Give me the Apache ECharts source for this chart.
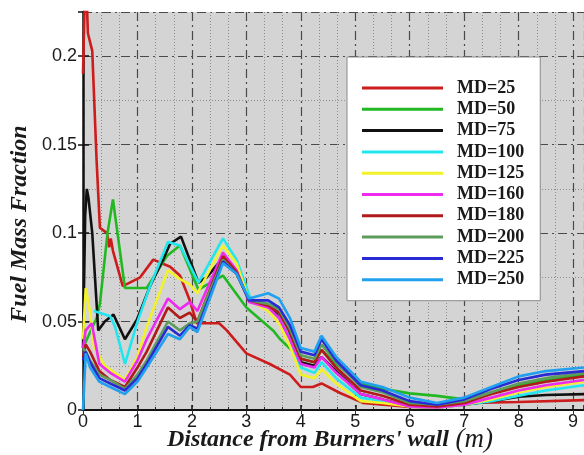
<!DOCTYPE html>
<html><head><meta charset="utf-8">
<script src="https://cdn.jsdelivr.net/npm/echarts@6/dist/echarts.min.js"></script>
<style>html,body{margin:0;padding:0;background:#fff}#c{width:584px;height:455px}</style>
</head><body><div id="c"></div>
<script>
const seriesNames = ['MD=25','MD=50','MD=75','MD=100','MD=125','MD=160','MD=180','MD=200','MD=225','MD=250'];
const seriesColors = ['#cc1c1c','#22b822','#111111','#22e6ee','#f2f22a','#ee2aee','#b01a1a','#5c9c5c','#2a2ad2','#20a0ee'];
const xTicks = [0,1,2,3,4,5,6,7,8,9];
const yTicks = [0,0.05,0.1,0.15,0.2];

const md25 = [[0,0.19],[0.03,0.23],[0.06,0.24],[0.09,0.213],[0.17,0.203],[0.25,0.141],[0.31,0.103],[0.44,0.100],[0.48,0.092],[0.51,0.097],[0.55,0.090],[0.73,0.070],[1.05,0.075],[1.29,0.085],[1.6,0.081],[1.78,0.076],[1.96,0.062],[2.09,0.049],[2.5,0.049],[2.64,0.045],[3.0,0.032],[3.43,0.026],[3.8,0.020],[4.0,0.013],[4.22,0.013],[4.38,0.015],[4.72,0.0096],[5.14,0.004],[6.0,0.0017],[6.5,0.0017],[7.1,0.004],[8.0,0.0045],[9.2,0.0056]];
const md50 = [[0,0.035],[0.1,0.042],[0.25,0.052],[0.31,0.06],[0.45,0.10],[0.55,0.119],[0.77,0.069],[1.17,0.069],[1.54,0.087],[1.78,0.093],[2.12,0.068],[2.57,0.076],[3.0,0.058],[3.49,0.045],[3.62,0.040],[4.0,0.029],[4.25,0.027],[4.38,0.034],[4.65,0.026],[5.1,0.015],[5.5,0.012],[6.0,0.0094],[6.5,0.008],[7.0,0.006],[7.5,0.010],[8.0,0.014],[8.5,0.017],[9.2,0.020]];
const md75 = [[0,0.035],[0.04,0.11],[0.07,0.125],[0.1,0.12],[0.17,0.10],[0.22,0.075],[0.28,0.045],[0.4,0.05],[0.56,0.054],[0.77,0.040],[0.99,0.051],[1.23,0.070],[1.47,0.085],[1.6,0.094],[1.8,0.098],[2.12,0.072],[2.27,0.075],[2.57,0.086],[2.82,0.078],[3.05,0.062],[3.4,0.059],[3.6,0.054],[3.8,0.042],[4.0,0.027],[4.25,0.025],[4.38,0.030],[4.65,0.022],[5.1,0.009],[5.5,0.006],[6.0,0.002],[6.5,0.0015],[7.0,0.003],[7.5,0.005],[8.0,0.0075],[8.5,0.0085],[9.2,0.009]];
const md100 = [[0.2,0.056],[0.5,0.053],[0.59,0.047],[0.77,0.026],[0.99,0.049],[1.23,0.070],[1.56,0.095],[1.78,0.093],[2.12,0.072],[2.57,0.097],[2.82,0.085],[3.1,0.061],[3.4,0.060],[3.6,0.055],[3.8,0.040],[4.0,0.024],[4.25,0.021],[4.38,0.027],[4.65,0.018],[5.1,0.007],[5.5,0.005],[6.0,0.002],[6.5,0.0015],[7.0,0.003],[7.5,0.005],[8.0,0.008],[8.5,0.011],[9.2,0.014]];
const md125 = [[0,0.04],[0.05,0.069],[0.13,0.055],[0.2,0.036],[0.4,0.025],[0.77,0.017],[1.0,0.030],[1.17,0.047],[1.56,0.079],[1.78,0.074],[1.96,0.071],[2.1,0.066],[2.57,0.093],[2.82,0.083],[3.05,0.062],[3.4,0.056],[3.6,0.049],[3.8,0.036],[4.0,0.020],[4.25,0.018],[4.38,0.023],[4.65,0.015],[5.1,0.005],[5.5,0.004],[6.0,0.002],[6.5,0.0015],[7.0,0.003],[7.5,0.006],[8.0,0.010],[8.5,0.013],[9.2,0.016]];
const md160 = [[0,0.035],[0.05,0.045],[0.16,0.049],[0.3,0.026],[0.5,0.021],[0.77,0.016],[1.0,0.028],[1.17,0.040],[1.56,0.063],[1.78,0.057],[1.96,0.061],[2.1,0.056],[2.57,0.089],[2.82,0.079],[3.05,0.061],[3.4,0.058],[3.6,0.052],[3.8,0.040],[4.0,0.026],[4.25,0.024],[4.38,0.030],[4.65,0.021],[5.1,0.009],[5.5,0.006],[6.0,0.002],[6.5,0.0015],[7.0,0.003],[7.5,0.007],[8.0,0.011],[8.5,0.014],[9.2,0.017]];
const md180 = [[0,0.03],[0.05,0.037],[0.13,0.033],[0.3,0.022],[0.5,0.017],[0.77,0.013],[1.0,0.024],[1.17,0.033],[1.56,0.058],[1.78,0.052],[1.96,0.055],[2.1,0.050],[2.57,0.087],[2.82,0.078],[3.05,0.062],[3.4,0.059],[3.6,0.055],[3.8,0.044],[4.0,0.029],[4.25,0.027],[4.38,0.034],[4.65,0.024],[5.1,0.011],[5.5,0.008],[6.0,0.003],[6.5,0.002],[7.0,0.004],[7.5,0.009],[8.0,0.013],[8.5,0.016],[9.2,0.019]];
const md200 = [[0,0.035],[0.05,0.033],[0.13,0.028],[0.3,0.02],[0.5,0.017],[0.77,0.012],[1.0,0.02],[1.17,0.028],[1.56,0.050],[1.78,0.045],[1.96,0.049],[2.1,0.050],[2.57,0.085],[2.82,0.077],[3.05,0.062],[3.4,0.060],[3.6,0.057],[3.8,0.046],[4.0,0.031],[4.25,0.029],[4.38,0.037],[4.65,0.027],[5.1,0.013],[5.5,0.010],[6.0,0.004],[6.5,0.003],[7.0,0.005],[7.5,0.010],[8.0,0.015],[8.5,0.018],[9.2,0.021]];
const md225 = [[0,0.028],[0.05,0.033],[0.13,0.027],[0.3,0.018],[0.5,0.015],[0.77,0.011],[1.0,0.018],[1.17,0.026],[1.56,0.047],[1.78,0.042],[1.96,0.048],[2.1,0.046],[2.57,0.084],[2.82,0.077],[3.05,0.062],[3.4,0.062],[3.6,0.058],[3.8,0.048],[4.0,0.033],[4.25,0.031],[4.38,0.040],[4.65,0.028],[5.1,0.014],[5.5,0.011],[6.0,0.005],[6.5,0.003],[7.0,0.006],[7.5,0.012],[8.0,0.017],[8.5,0.020],[9.2,0.022]];
const md250 = [[0,0],[0.05,0.032],[0.13,0.024],[0.3,0.016],[0.5,0.013],[0.77,0.009],[1.0,0.016],[1.17,0.024],[1.56,0.043],[1.78,0.040],[1.96,0.047],[2.1,0.044],[2.57,0.083],[2.82,0.077],[3.05,0.063],[3.4,0.066],[3.6,0.063],[3.8,0.052],[4.0,0.035],[4.25,0.033],[4.38,0.042],[4.65,0.030],[5.1,0.016],[5.5,0.013],[6.0,0.007],[6.5,0.004],[7.0,0.007],[7.5,0.013],[8.0,0.019],[8.5,0.022],[9.2,0.024]];

const seriesData = [md25, md50, md75, md100, md125, md160, md180, md200, md225, md250];

const chart = echarts.init(document.getElementById('c'), null, {renderer: 'canvas'});
const majorLine = {show: true, lineStyle: {color: '#4a4a4a', width: 1.2, type: [9, 4, 2, 4]}};
const minorLine = {show: true, lineStyle: {color: '#8c8c8c', width: 1, type: [1, 2]}};
const tickFont = {fontFamily: 'Liberation Sans, Arial, sans-serif', fontSize: 18, color: '#1a1a1a'};

const option = {
  animation: false,
  backgroundColor: '#ffffff',
  grid: {left: 83, right: 0, top: 12, bottom: 45, show: true, backgroundColor: '#d4d4d4', borderWidth: 0},
  legend: {
    data: seriesNames,
    orient: 'vertical',
    left: 347, top: 57,
    backgroundColor: '#ffffff',
    borderColor: '#8a8a8a', borderWidth: 1,
    padding: [22, 16, 12, 15],
    itemWidth: 81, itemHeight: 3, itemGap: 3.3,
    icon: 'rect',
    textStyle: {fontFamily: 'Liberation Serif, Times New Roman, serif', fontWeight: 'bold', fontSize: 18, color: '#1a1a1a', lineHeight: 18, padding: [0, 0, 0, 9]}
  },
  xAxis: [{
    type: 'value', min: xTicks[0], max: 9.2, interval: 1,
    axisLine: {show: true, onZero: false, lineStyle: {color: '#111', width: 2}},
    axisTick: {show: true, inside: true, length: 5, lineStyle: {color: '#111', width: 1.5}},
    minorTick: {show: true, splitNumber: 3, length: 3, lineStyle: {color: '#222'}},
    axisLabel: Object.assign({margin: 3, showMaxLabel: false}, tickFont),
    splitLine: majorLine,
    minorSplitLine: minorLine
  }, {
    type: 'value', position: 'top', min: xTicks[0], max: 9.2, interval: 1,
    axisLine: {show: false},
    axisTick: {show: true, inside: true, length: 4, lineStyle: {color: '#333'}},
    axisLabel: {show: false}, splitLine: {show: false}
  }],
  yAxis: [{
    type: 'value', min: yTicks[0], max: 0.225, interval: 0.05,
    axisLine: {show: true, onZero: false, lineStyle: {color: '#111', width: 2.5}},
    axisTick: {show: true, inside: true, length: 6, lineStyle: {color: '#111', width: 1.5}},
    minorTick: {show: false, splitNumber: 2},
    axisLabel: Object.assign({margin: 6, showMaxLabel: false}, tickFont),
    splitLine: majorLine,
    minorSplitLine: minorLine
  }, {
    type: 'value', position: 'right', min: yTicks[0], max: 0.225, interval: 0.05,
    axisLine: {show: false},
    axisTick: {show: true, inside: true, length: 5, lineStyle: {color: '#111', width: 1.5}},
    axisLabel: {show: false}, splitLine: {show: false}
  }],
  graphic: [{
    type: 'text', x: 20, y: 224, rotation: Math.PI / 2,
    style: {text: 'Fuel Mass Fraction', fontFamily: 'Liberation Serif, Times New Roman, serif', fontStyle: 'italic', fontWeight: 'bold', fontSize: 24, fill: '#1a1a1a', align: 'center', verticalAlign: 'middle'}
  }, {
    type: 'text', x: 330, y: 440,
    style: {
      text: '{a|Distance from Burners\' wall}  {b|(m)}',
      align: 'center', verticalAlign: 'middle',
      rich: {
        a: {fontFamily: 'Liberation Serif, Times New Roman, serif', fontStyle: 'italic', fontWeight: 'bold', fontSize: 24, fill: '#1a1a1a'},
        b: {fontFamily: 'Liberation Serif, Times New Roman, serif', fontStyle: 'italic', fontSize: 27, fill: '#1a1a1a'}
      }
    }
  }],
  series: seriesNames.map((name, i) => ({
    name: name, type: 'line', data: seriesData[i],
    xAxisIndex: 0, yAxisIndex: 0,
    symbol: 'none', smooth: false, clip: true,
    lineStyle: {color: seriesColors[i], width: 2.6},
    itemStyle: {color: seriesColors[i]}
  }))
};
chart.setOption(option);
</script>
</body></html>
